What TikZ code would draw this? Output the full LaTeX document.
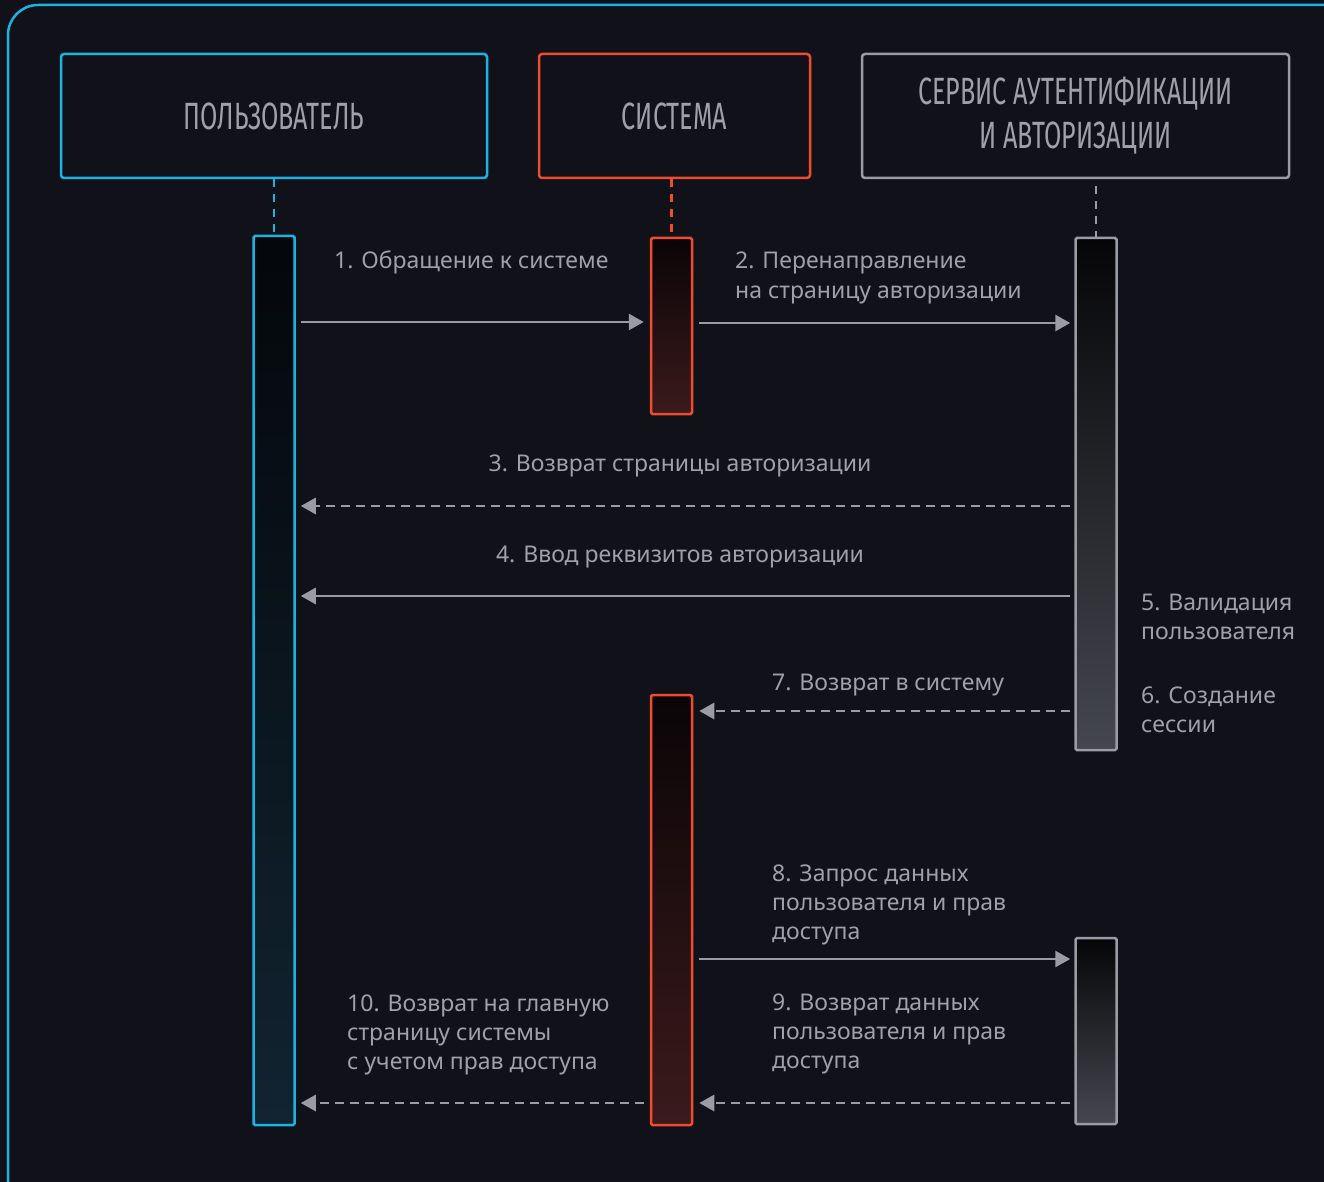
\documentclass[tikz,border=0pt]{standalone}
\usepackage{fontspec}
\setmainfont{Noto Sans}
\newfontfamily\headfont[FakeStretch=0.66]{Fira Sans}
\usepackage{tikz}
\usetikzlibrary{arrows.meta}

\definecolor{bgdark}{HTML}{111219}
\definecolor{usercol}{HTML}{1CB2E2}
\definecolor{syscol}{HTML}{F04B2D}
\definecolor{authcol}{HTML}{9A9CA3}
\definecolor{txtgray}{HTML}{9EA1A8}
\definecolor{linegray}{HTML}{9A9CA3}
\definecolor{usertop}{HTML}{04070B}
\definecolor{userbot}{HTML}{112431}
\definecolor{systop}{HTML}{0A0507}
\definecolor{sysbot}{HTML}{3B1A1C}
\definecolor{authtop}{HTML}{060608}
\definecolor{authbot}{HTML}{45474F}

\begin{document}
\begin{tikzpicture}[x=1pt,y=-1pt,>={Triangle[length=15pt,width=16pt]},
  every node/.style={text=txtgray},
  header/.style={draw,rounded corners=3pt,line width=2.5pt,fill=bgdark,minimum height=124pt,
    font=\headfont\fontsize{38}{44}\selectfont,align=center,inner sep=0pt},
  bar/.style={draw,line width=2.5pt,rounded corners=1.5pt,minimum width=41pt,inner sep=0pt},
  life/.style={line width=2.5pt,dash pattern=on 8pt off 7pt},
  msg/.style={->,draw=linegray,line width=2.8pt},
  ret/.style={msg,dash pattern=on 9pt off 6pt},
  lbl/.style={font=\fontsize{23}{29}\selectfont,align=left,inner sep=0pt,anchor=base west}]

  \clip (0,0) rectangle (1324,1182);
  \fill[bgdark] (0,0) rectangle (1324,1182);
  \draw[usercol,line width=2.5pt,rounded corners=30pt] (8,5) rectangle (1380,1240);

  % participants
  \node[header,draw=usercol,minimum width=426pt] (user) at (274,116) {ПОЛЬЗОВАТЕЛЬ};
  \node[header,draw=syscol,minimum width=271pt] (sys) at (674.5,116) {СИСТЕМА};
  \node[header,draw=authcol,minimum width=427pt] (auth) at (1075.5,116) {СЕРВИС АУТЕНТИФИКАЦИИ\\И АВТОРИЗАЦИИ};

  % activation bars
  \node[bar,draw=usercol,top color=usertop,bottom color=userbot,minimum height=889pt] (ubar) at (274,680.5) {};
  \node[bar,draw=syscol,top color=systop,bottom color=sysbot,minimum height=176pt] (sbar1) at (671.5,326) {};
  \node[bar,draw=syscol,top color=systop,bottom color=sysbot,minimum height=430pt] (sbar2) at (671.5,910) {};
  \node[bar,draw=authcol,top color=authtop,bottom color=authbot,minimum height=512pt] (abar1) at (1096,494) {};
  \node[bar,draw=authcol,top color=authtop,bottom color=authbot,minimum height=186pt] (abar2) at (1096,1031) {};

  % lifelines
  \draw[life,usercol] (user.south) -- (ubar.north);
  \draw[life,syscol] (sbar1.north |- sys.south) -- (sbar1.north);
  \draw[life,authcol] ([yshift=-7pt]abar1.north |- auth.south) -- (abar1.north);

  % message levels
  \coordinate (m1) at (0,322);
  \coordinate (m2) at (0,323);
  \coordinate (m3) at (0,506);
  \coordinate (m4) at (0,596);
  \coordinate (m7) at (0,711);
  \coordinate (m8) at (0,959);
  \coordinate (m9) at (0,1103);

  % messages
  \draw[msg] ([xshift=5pt]ubar.east |- m1) -- ([xshift=-6pt]sbar1.west |- m1);
  \draw[msg] ([xshift=6pt]sbar1.east |- m2) -- ([xshift=-4pt]abar1.west |- m2);
  \draw[ret] ([xshift=-4pt]abar1.west |- m3) -- ([xshift=5pt]ubar.east |- m3);
  \draw[msg] ([xshift=-4pt]abar1.west |- m4) -- ([xshift=5pt]ubar.east |- m4);
  \draw[ret] ([xshift=-4pt]abar1.west |- m7) -- ([xshift=6pt]sbar2.east |- m7);
  \draw[msg] ([xshift=6pt]sbar2.east |- m8) -- ([xshift=-4pt]abar2.west |- m8);
  \draw[ret] ([xshift=-4pt]abar2.west |- m9) -- ([xshift=6pt]sbar2.east |- m9);
  \draw[ret] ([xshift=-6pt]sbar2.west |- m9) -- ([xshift=5pt]ubar.east |- m9);

  % labels (base = last line)
  \node[lbl] (l1) at (334,269) {1. Обращение к системе};
  \node[lbl] (l2) at (735,298) {2. Перенаправление\\на страницу авторизации};
  \node[lbl,anchor=base] (l3) at (680,471) {3. Возврат страницы авторизации};
  \node[lbl,anchor=base] (l4) at (680,562) {4. Ввод реквизитов авторизации};
  \node[lbl] (l5) at (1141,639) {5. Валидация\\пользователя};
  \node[lbl] (l6) at (1141,732) {6. Создание\\сессии};
  \node[lbl] (l7) at (772,690) {7. Возврат в систему};
  \node[lbl] (l8) at (772,939) {8. Запрос данных\\пользователя и прав\\доступа};
  \node[lbl] (l9) at (772,1068) {9. Возврат данных\\пользователя и прав\\доступа};
  \node[lbl] (l10) at (347,1069) {10. Возврат на главную\\страницу системы\\с учетом прав доступа};
\end{tikzpicture}
\end{document}
